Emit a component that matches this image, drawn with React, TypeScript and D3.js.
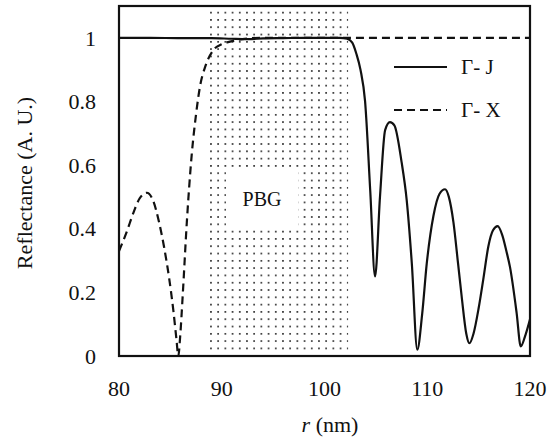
import React from "react";
import * as d3 from "d3";

// Reflectance along Γ-J (solid curve)
const rJ = [80, 83, 86, 89, 91, 92.5, 94, 96, 98, 100, 101.5, 102.2, 102.7, 103.1, 103.5, 103.95, 104.45, 104.92, 105.4, 105.9, 106.37, 106.8, 107.5, 108.0, 108.5, 109.03, 109.5, 109.95, 110.6, 111.2, 111.73, 112.1, 112.55, 113.0, 113.35, 113.8, 114.1, 114.5, 115.0, 115.45, 115.95, 116.4, 116.85, 117.3, 117.7, 118.05, 118.7, 119.1, 119.5, 120];
const reflJ = [1.0, 1.0, 0.999, 0.999, 0.997, 0.996, 0.998, 0.999, 1.0, 1.0, 1.0, 0.997, 0.985, 0.95, 0.9, 0.8, 0.52, 0.25, 0.5, 0.71, 0.735, 0.725, 0.61, 0.49, 0.29, 0.02, 0.13, 0.29, 0.44, 0.51, 0.524, 0.5, 0.42, 0.29, 0.187, 0.07, 0.04, 0.07, 0.15, 0.24, 0.345, 0.395, 0.408, 0.38, 0.33, 0.28, 0.135, 0.03, 0.06, 0.115];

// Reflectance along Γ-X (dashed curve)
const rX = [80, 80.75, 81.4, 82.0, 82.7, 83.3, 83.9, 84.4, 84.9, 85.3, 85.6, 85.77, 85.95, 86.2, 86.6, 87.07, 87.5, 87.9, 88.4, 89.2, 90.0, 90.8, 92, 94, 100, 110, 120];
const reflX = [0.33, 0.39, 0.45, 0.495, 0.513, 0.49, 0.42, 0.34, 0.24, 0.14, 0.05, 0.0, 0.06, 0.19, 0.42, 0.63, 0.76, 0.85, 0.91, 0.962, 0.98, 0.988, 0.996, 1.0, 1.0, 1.0, 1.0];

// Photonic band gap range (nm)
const pbgRange = [88.6, 102.3];

const xTicks = [80, 90, 100, 110, 120];
const yTicks = [0, 0.2, 0.4, 0.6, 0.8, 1];
const yTickLabels = ["0", "0.2", "0.4", "0.6", "0.8", "1"];

const legendLabels = ["Γ- J", "Γ- X"];

const W = 551;
const H = 441;
const margin = { left: 119, right: 21, top: 6, bottom: 85 };
const FONT = "'Times New Roman', 'Liberation Serif', serif";

export default function App() {
  const x = d3.scaleLinear().domain([80, 120]).range([margin.left, W - margin.right]);
  const y = d3.scaleLinear().domain([0, 1.1]).range([H - margin.bottom, margin.top]);

  const line = d3
    .line<[number, number]>()
    .x((d) => x(d[0]))
    .y((d) => y(d[1]))
    .curve(d3.curveMonotoneX);

  const pathJ = line(rJ.map((r, i) => [r, reflJ[i]]) as [number, number][]) || "";
  const pathX = line(rX.map((r, i) => [r, reflX[i]]) as [number, number][]) || "";

  const x0 = x.range()[0];
  const x1 = x.range()[1];
  const y0 = y.range()[0];
  const y1 = y.range()[1];

  const bandL = x(pbgRange[0]);
  const bandR = x(pbgRange[1]);

  return (
    <svg
      width={W}
      height={H}
      style={{ position: "absolute", left: 0, top: 0, background: "#fff" }}
      fontFamily={FONT}
    >
      <defs>
        <pattern id="pbgDots" width={7.2} height={7.3} patternUnits="userSpaceOnUse" x={bandL} y={y1 + 3}>
          <rect x={2.8} y={2.8} width={1.6} height={1.6} fill="#1a1a1a" />
        </pattern>
        <clipPath id="plotClip">
          <rect x={x0} y={y1} width={x1 - x0} height={y0 - y1} />
        </clipPath>
      </defs>

      {/* band-gap shading */}
      <rect x={bandL} y={y1 + 3} width={bandR - bandL} height={y0 - y1 - 5} fill="url(#pbgDots)" />
      <rect x={226} y={172} width={72} height={54} fill="#fff" />
      <text x={262} y={206} textAnchor="middle" fontSize={20} fill="#111">
        PBG
      </text>

      <g clipPath="url(#plotClip)">
        <path d={pathX} fill="none" stroke="#111" strokeWidth={2.2} strokeDasharray="8 5" />
        <path d={pathJ} fill="none" stroke="#111" strokeWidth={2.2} />
      </g>

      {/* frame */}
      <rect x={x0} y={y1} width={x1 - x0} height={y0 - y1} fill="none" stroke="#111" strokeWidth={2.2} />

      {/* y tick labels */}
      {yTicks.map((t, i) => (
        <text key={"y" + t} x={96} y={y(t)} dy="0.35em" textAnchor="end" fontSize={22} fill="#111">
          {yTickLabels[i]}
        </text>
      ))}

      {/* x tick labels */}
      {xTicks.map((t) => (
        <text key={"x" + t} x={x(t)} y={396} textAnchor="middle" fontSize={22} fill="#111">
          {t}
        </text>
      ))}

      {/* axis titles */}
      <text
        transform={`translate(32, ${183}) rotate(-90)`}
        textAnchor="middle"
        fontSize={22}
        fill="#111"
      >
        Reflectance (A. U.)
      </text>
      <text x={330} y={432} textAnchor="middle" fontSize={22} fill="#111">
        <tspan fontStyle="italic">r</tspan> (nm)
      </text>

      {/* legend */}
      <line x1={394} x2={447} y1={67} y2={67} stroke="#111" strokeWidth={2.2} />
      <text x={461} y={74} fontSize={21} fill="#111">
        {legendLabels[0]}
      </text>
      <line x1={394} x2={447} y1={110} y2={110} stroke="#111" strokeWidth={2.2} strokeDasharray="8 5" />
      <text x={461} y={117} fontSize={21} fill="#111">
        {legendLabels[1]}
      </text>
    </svg>
  );
}
